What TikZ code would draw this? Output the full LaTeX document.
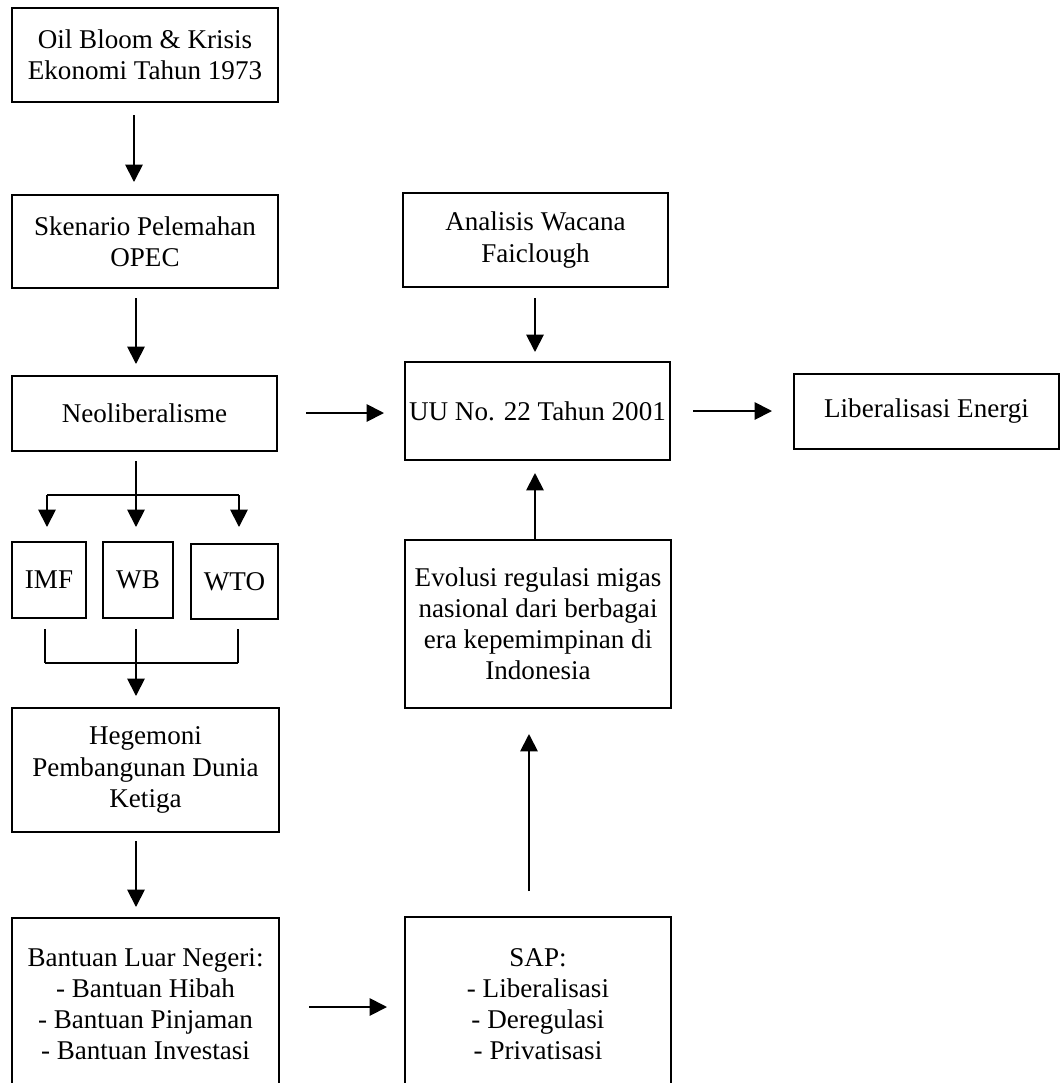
\documentclass[tikz,border=0pt]{standalone}
\usepackage{fontspec}
\setmainfont{Liberation Serif}
\usetikzlibrary{arrows.meta,calc}
\tikzset{
  box/.style={draw=black, line width=1.5pt, inner sep=0pt, align=center,
              font=\fontsize{20.3}{23.3}\selectfont},
  ln/.style={draw=black, line width=1.4pt},
  arr/.style={ln, -{Triangle[length=13pt,width=13pt]}}
}
\newcommand{\bx}[6]{\node[box, minimum width={(#4-#2)*0.75pt}, minimum height={(#5-#3)*0.75pt}] (#1) at ({(#2+#4)/2},{(#3+#5)/2}) {#6};}
\begin{document}
\begin{tikzpicture}[x=0.75pt,y=-0.75pt]
\useasboundingbox (0,0) rectangle (1061,1083);
\clip (0,0) rectangle (1061,1083);
\fill[white] (0,0) rectangle (1061,1083);
% left column
\bx{oil}{12}{8}{278}{102}{Oil Bloom \& Krisis\\Ekonomi Tahun 1973}
\bx{sken}{12}{195}{278}{288}{Skenario Pelemahan\\OPEC}
\bx{neo}{12}{376}{277}{451}{Neoliberalisme}
\bx{imf}{12}{542}{86}{618}{IMF}
\bx{wb}{103}{542}{173}{618}{WB}
\bx{wto}{191}{544}{278}{619}{WTO}
\bx{heg}{12}{708}{279}{832}{Hegemoni\\Pembangunan Dunia\\Ketiga}
\bx{ban}{12}{918}{279}{1091}{Bantuan Luar Negeri:\\- Bantuan Hibah\\- Bantuan Pinjaman\\- Bantuan Investasi}
% right column
\bx{ana}{403}{193}{668}{287}{Analisis Wacana\\Faiclough}
\bx{uu}{405}{362}{670}{460}{UU No. 22 Tahun 2001}
\bx{lib}{794}{374}{1059}{449}{Liberalisasi Energi}
\bx{evo}{405}{540}{671}{708}{Evolusi regulasi migas\\nasional dari berbagai\\era kepemimpinan di\\Indonesia}
\bx{sap}{405}{917}{671}{1091}{SAP:\\- Liberalisasi\\- Deregulasi\\- Privatisasi}
% helper coordinates
\coordinate (L1) at (134,0);
\coordinate (L2) at (136,0);
\coordinate (jl) at (47,495);
\coordinate (jr) at (239,495);
\coordinate (ml) at (45,663);
\coordinate (mm) at (136,663);
\coordinate (mr) at (238,663);
\coordinate (R1) at (535,0);
\coordinate (R2) at (529,0);
\coordinate (Y1) at (0,413);
\coordinate (Y2) at (0,411);
\coordinate (Y3) at (0,1007);
% connectors left
\draw[arr, shorten <=9pt, shorten >=9pt] (oil.south -| L1) -- (sken.north -| L1);
\draw[arr, shorten <=6.75pt, shorten >=8.25pt] (sken.south -| L2) -- (neo.north -| L2);
\draw[arr, shorten <=6.75pt, shorten >=10.5pt] (neo.south -| L2) -- (wb.north -| L2);
\draw[ln] (jl) -- (jr);
\draw[arr, shorten >=10.5pt] (jl) -- (imf.north -| jl);
\draw[arr, shorten >=12pt] (jr) -- (wto.north -| jr);
\draw[ln, shorten <=7.5pt] (imf.south -| ml) -- (ml);
\draw[ln, shorten <=7.5pt] (wb.south -| mm) -- (mm);
\draw[ln, shorten <=7pt] (wto.south -| mr) -- (mr);
\draw[ln] (ml) -- (mr);
\draw[arr, shorten >=8.25pt] (mm) -- (heg.north -| mm);
\draw[arr, shorten <=6pt, shorten >=7.5pt] (heg.south -| L2) -- (ban.north -| L2);
% horizontal connectors
\draw[arr, shorten <=21.75pt, shorten >=12.75pt] (ban.east |- Y3) -- (sap.west |- Y3);
\draw[arr, shorten <=21pt, shorten >=15pt] (neo.east |- Y1) -- (uu.west |- Y1);
\draw[arr, shorten <=16.5pt, shorten >=15.75pt] (uu.east |- Y2) -- (lib.west |- Y2);
% connectors right
\draw[arr, shorten <=7.5pt, shorten >=6.75pt] (ana.south -| R1) -- (uu.north -| R1);
\draw[arr, shorten >=9pt] (evo.north -| R1) -- (uu.south -| R1);
\draw[arr, shorten <=18.75pt, shorten >=18.75pt] (sap.north -| R2) -- (evo.south -| R2);
\end{tikzpicture}
\end{document}
